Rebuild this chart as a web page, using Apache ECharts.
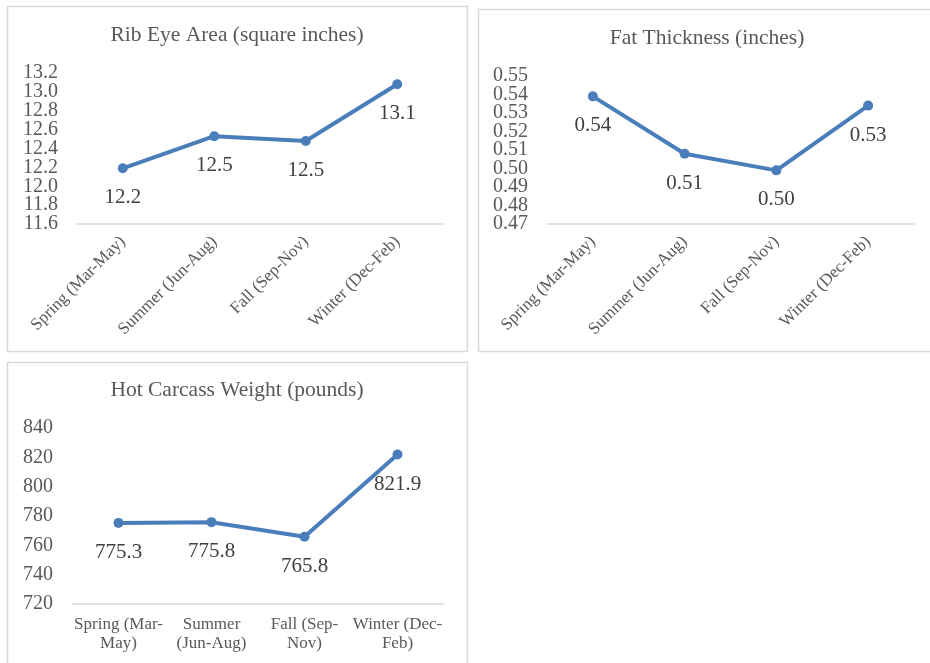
<!DOCTYPE html>
<html>
<head>
<meta charset="utf-8">
<script src="https://cdn.jsdelivr.net/npm/echarts@6/dist/echarts.min.js"></script>
<style>
html,body{margin:0;padding:0;background:#fff;}
#main{width:930px;height:663px;}
</style>
</head>
<body>
<div id="main"></div>
<script>
var categories = ["Spring (Mar-May)", "Summer (Jun-Aug)", "Fall (Sep-Nov)", "Winter (Dec-Feb)"];
var hcwTickLabels = ["Spring (Mar-\nMay)", "Summer\n(Jun-Aug)", "Fall (Sep-\nNov)", "Winter (Dec-\nFeb)"];
var ribEyeArea = [12.19, 12.53, 12.48, 13.08];
var fatThickness = [0.539, 0.508, 0.499, 0.534];
var hotCarcassWeight = [775.3, 775.8, 765.8, 821.9];
var ribEyeTicks = [11.6, 11.8, 12.0, 12.2, 12.4, 12.6, 12.8, 13.0, 13.2];
var fatTicks = [0.47, 0.48, 0.49, 0.50, 0.51, 0.52, 0.53, 0.54, 0.55];
var hcwTicks = [720, 740, 760, 780, 800, 820, 840];
var titles = ["Rib Eye Area (square inches)", "Fat Thickness (inches)", "Hot Carcass Weight (pounds)"];

var FONT = "'Liberation Serif', 'Times New Roman', serif";
var TXT = "#595959";
var LINE = "#4a7ebb";
var GRIDC = "#d9d9d9";

function pick(arr, parity) { return arr.filter(function (v, i) { return i % 2 === parity; }); }

function yAxis(idx, ticks, dec, values) {
  return {
    type: 'value', gridIndex: idx, position: 'left', offset: 0,
    min: ticks[0], max: ticks[ticks.length - 1],
    interval: +(ticks[1] - ticks[0]).toFixed(6),
    axisLine: {show: false}, axisTick: {show: false}, splitLine: {show: false},
    axisLabel: {color: TXT, fontFamily: FONT, fontSize: 20, margin: 19,
      customValues: values,
      formatter: function (v) { return (+v).toFixed(dec); }}
  };
}
function xAxis(idx, rotate, labels) {
  return {
    type: 'category', gridIndex: idx, data: categories, boundaryGap: true,
    axisLine: {show: true, lineStyle: {color: GRIDC, width: 1.5}},
    axisTick: {show: false},
    axisLabel: {color: TXT, fontFamily: FONT, fontSize: 17, rotate: rotate, interval: 0,
      margin: rotate ? 15 : 11, lineHeight: 19, hideOverlap: false,
      formatter: labels ? function (v, i) { return labels[i]; } : null}
  };
}
function series(xi, yi, data, dec) {
  return {
    type: 'line', xAxisIndex: xi, yAxisIndex: yi, data: data,
    symbol: 'circle', symbolSize: 10,
    lineStyle: {color: LINE, width: 4}, itemStyle: {color: LINE},
    label: {show: true, position: 'bottom', distance: 14, color: '#404040',
      fontFamily: FONT, fontSize: 21,
      formatter: function (p) { return p.value.toFixed(dec); }},
    labelLayout: {hideOverlap: false},
    animation: false
  };
}

var TS = {color: TXT, fontFamily: FONT, fontSize: 21.5, fontWeight: 'normal'};
var chart = echarts.init(document.getElementById('main'));
chart.setOption({
  backgroundColor: '#fff',
  animation: false,
  graphic: [
    {type: 'rect', shape: {x: 7.5, y: 6.5, width: 460, height: 345}, style: {fill: 'none', stroke: GRIDC, lineWidth: 1.5}},
    {type: 'rect', shape: {x: 478.5, y: 9.5, width: 460, height: 342}, style: {fill: 'none', stroke: GRIDC, lineWidth: 1.5}},
    {type: 'rect', shape: {x: 7.5, y: 362.5, width: 460, height: 310}, style: {fill: 'none', stroke: GRIDC, lineWidth: 1.5}}
  ],
  title: [
    {text: titles[0], left: 237, top: 24, padding: 0, textAlign: 'center', textStyle: TS},
    {text: titles[1], left: 707, top: 27, padding: 0, textAlign: 'center', textStyle: TS},
    {text: titles[2], left: 237, top: 379, padding: 0, textAlign: 'center', textStyle: TS}
  ],
  grid: [
    {left: 77, top: 73, width: 366, height: 151},
    {left: 547, top: 76, width: 367, height: 148},
    {left: 72, top: 428, width: 372, height: 176}
  ],
  xAxis: [xAxis(0, 45), xAxis(1, 45), xAxis(2, 0, hcwTickLabels)],
  yAxis: [
    yAxis(0, ribEyeTicks, 1, pick(ribEyeTicks, 0)),
    yAxis(0, ribEyeTicks, 1, pick(ribEyeTicks, 1)),
    yAxis(1, fatTicks, 2, pick(fatTicks, 0)),
    yAxis(1, fatTicks, 2, pick(fatTicks, 1)),
    yAxis(2, hcwTicks, 0, hcwTicks)
  ],
  series: [series(0, 0, ribEyeArea, 1), series(1, 2, fatThickness, 2), series(2, 4, hotCarcassWeight, 1)]
});
</script>
</body>
</html>
